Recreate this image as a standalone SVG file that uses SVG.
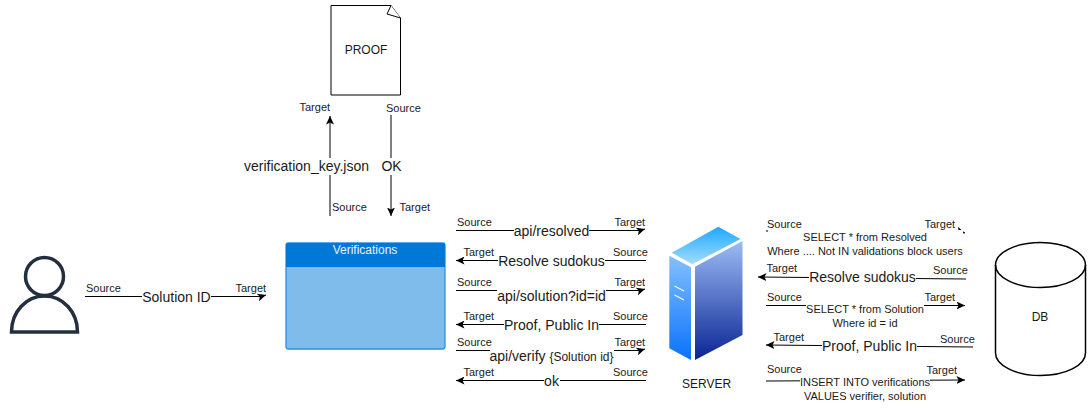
<svg xmlns="http://www.w3.org/2000/svg" width="1091" height="408" viewBox="0 0 1091 408">
<style>
text{font-family:"Liberation Sans",Arial,sans-serif;fill:#1a1a1a}
.e{font-size:11px}
.l{font-size:14px;text-anchor:middle}
.m{font-size:11px;text-anchor:middle}
.n{font-size:12px;text-anchor:middle}
.c{fill:none;stroke:#000;stroke-width:1;marker-end:url(#a)}
.b{fill:#fff;stroke:none}
.o{fill:#fff;stroke:#000;stroke-width:1}
</style>
<defs>
<marker id="a" markerUnits="userSpaceOnUse" markerWidth="10" markerHeight="8" refX="8.5" refY="4" orient="auto">
<path d="M0,0 L8.5,4 L0,8 L2,4 Z" fill="#000"/>
</marker>
<linearGradient id="gt" x1="0" y1="1" x2="0" y2="0"><stop offset="0" stop-color="#a3dcff"/><stop offset="1" stop-color="#1ea8ff"/></linearGradient>
<linearGradient id="gl" x1="0" y1="0" x2="0" y2="1"><stop offset="0" stop-color="#84c0ff"/><stop offset="1" stop-color="#0a72fa"/></linearGradient>
<linearGradient id="gr" x1="0" y1="0" x2="0" y2="1"><stop offset="0" stop-color="#9cbcf5"/><stop offset="1" stop-color="#0a2494"/></linearGradient>
</defs>

<g id="user" fill="none" stroke="#232f3e" stroke-width="3.5">
<circle cx="44.5" cy="276.5" r="19"/>
<path d="M11.5,332 C11.500,312 26,296 44.500,296 C63,296 77.500,312 77.500,332 Z"/>
</g>

<g id="proof">
<path class="o" d="M331,5.500 H391 L400.500,18 V95 H331 Z"/>
<path class="o" d="M391,5.500 L387,14 L400.500,18"/>
<text class="n" x="366" y="54">PROOF</text>
</g>

<g id="verifications">
<rect x="286" y="243" width="159" height="106" rx="2.500" fill="#7fbbeb" stroke="#2d8fe3" stroke-width="1.300"/>
<path d="M286,267 V245 Q286,243 288,243 H443 Q445,243 445,245 V267 Z" fill="#0078d7"/>
<text class="n" x="365" y="254" style="fill:#e6f2fc">Verifications</text>
</g>

<g id="server">
<path d="M671.700,252.700 L718.300,226.700 L740.500,239 L692.300,264.300 Z" fill="url(#gt)"/>
<path d="M669.300,255.700 L691,267.300 V360 L669.300,348.300 Z" fill="url(#gl)"/>
<path d="M695,266.700 L742.500,241 V335 L695,360 Z" fill="url(#gr)"/>
<path d="M674.500,286 L684,291 M674.500,295 L684,300" stroke="#f0f7ff" stroke-width="1.300"/>
<text class="n" x="706.500" y="388">SERVER</text>
</g>

<g id="db">
<path class="o" style="stroke-width:1.500" d="M995.500,265 A45,22.500 0 0 1 1085.500,265 V353 A45,22.500 0 0 1 995.500,353 Z"/>
<path d="M995.500,265 A45,22.500 0 0 0 1085.500,265" fill="none" stroke="#000" stroke-width="1.500"/>
<text class="n" x="1040" y="321">DB</text>
</g>

<g id="connectors">
<path class="c" d="M85,296.500 H261 L266,295"/>
<rect class="b" x="142" y="288" width="69" height="17"/>
<text class="l" x="176.500" y="302">Solution ID</text>
<text class="e" x="86" y="292">Source</text>
<text class="e" x="235.500" y="292">Target</text>

<path class="c" d="M330,216 V116"/>
<rect class="b" x="244" y="158" width="125" height="17"/>
<text class="l" x="306.500" y="171">verification_key.json</text>
<text class="e" x="299.500" y="111">Target</text>
<text class="e" x="332" y="211">Source</text>

<path class="c" d="M391,115 V216"/>
<rect class="b" x="381" y="158" width="21" height="17"/>
<text class="l" x="391.500" y="171">OK</text>
<text class="e" x="386" y="112">Source</text>
<text class="e" x="399.500" y="211">Target</text>

<path class="c" d="M456,230.500 H640 L645,229"/>
<rect class="b" x="514" y="222" width="75" height="17"/>
<text class="l" x="551.500" y="236">api/resolved</text>
<text class="e" x="457" y="226">Source</text>
<text class="e" x="614.500" y="226">Target</text>

<path class="c" d="M646,260.500 H456"/>
<rect class="b" x="498" y="252" width="107" height="17"/>
<text class="l" x="551.500" y="266">Resolve sudokus</text>
<text class="e" x="463.500" y="256">Target</text>
<text class="e" x="613" y="256">Source</text>

<path class="c" d="M456,290.500 H640 L645,289"/>
<rect class="b" x="497" y="282" width="109" height="22"/>
<text class="l" x="551.500" y="301">api/solution?id=id</text>
<text class="e" x="457" y="286">Source</text>
<text class="e" x="614.500" y="286">Target</text>

<path class="c" d="M646,324.500 H456"/>
<rect class="b" x="504" y="316" width="95" height="17"/>
<text class="l" x="551.500" y="330">Proof, Public In</text>
<text class="e" x="463.500" y="320">Target</text>
<text class="e" x="613" y="320">Source</text>

<path class="c" d="M456,350.500 H640 L645,349"/>
<rect class="b" x="490" y="342" width="124" height="22"/>
<text class="l" x="551.500" y="361">api/verify <tspan font-size="12">{Solution id}</tspan></text>
<text class="e" x="457" y="346">Source</text>
<text class="e" x="614.500" y="346">Target</text>

<path class="c" d="M646,380.500 H456"/>
<rect class="b" x="544" y="372" width="16" height="17"/>
<text class="l" x="551.500" y="386">ok</text>
<text class="e" x="463.500" y="376">Target</text>
<text class="e" x="613" y="376">Source</text>

<path class="c" d="M766,231 H958 L965,233"/>
<rect class="b" x="768" y="230" width="195" height="28"/>
<text class="m" x="865" y="241">SELECT * from Resolved</text>
<text class="m" x="865" y="255">Where .... Not IN validations block users</text>
<text class="e" x="767" y="228">Source</text>
<text class="e" x="924.500" y="228">Target</text>

<path class="c" d="M966,279 L758,277"/>
<rect class="b" x="809" y="269" width="107" height="17"/>
<text class="l" x="862.500" y="282">Resolve sudokus</text>
<text class="e" x="766.500" y="272">Target</text>
<text class="e" x="933" y="274">Source</text>

<path class="c" d="M766,305.500 H965"/>
<rect class="b" x="806" y="303" width="118" height="28"/>
<text class="m" x="865" y="313">SELECT * from Solution</text>
<text class="m" x="865" y="327">Where id = id</text>
<text class="e" x="767" y="301">Source</text>
<text class="e" x="924.500" y="301">Target</text>

<path class="c" d="M973,347 L766,345"/>
<rect class="b" x="822" y="338" width="95" height="17"/>
<text class="l" x="869.500" y="351">Proof, Public In</text>
<text class="e" x="773.500" y="341">Target</text>
<text class="e" x="940" y="343">Source</text>

<path class="c" d="M766,381 L965,380"/>
<rect class="b" x="800" y="376" width="130" height="28"/>
<text class="m" x="865" y="386">INSERT INTO verifications</text>
<text class="m" x="865" y="400">VALUES verifier, solution</text>
<text class="e" x="767" y="373">Source</text>
<text class="e" x="926.500" y="374">Target</text>
</g>
</svg>
